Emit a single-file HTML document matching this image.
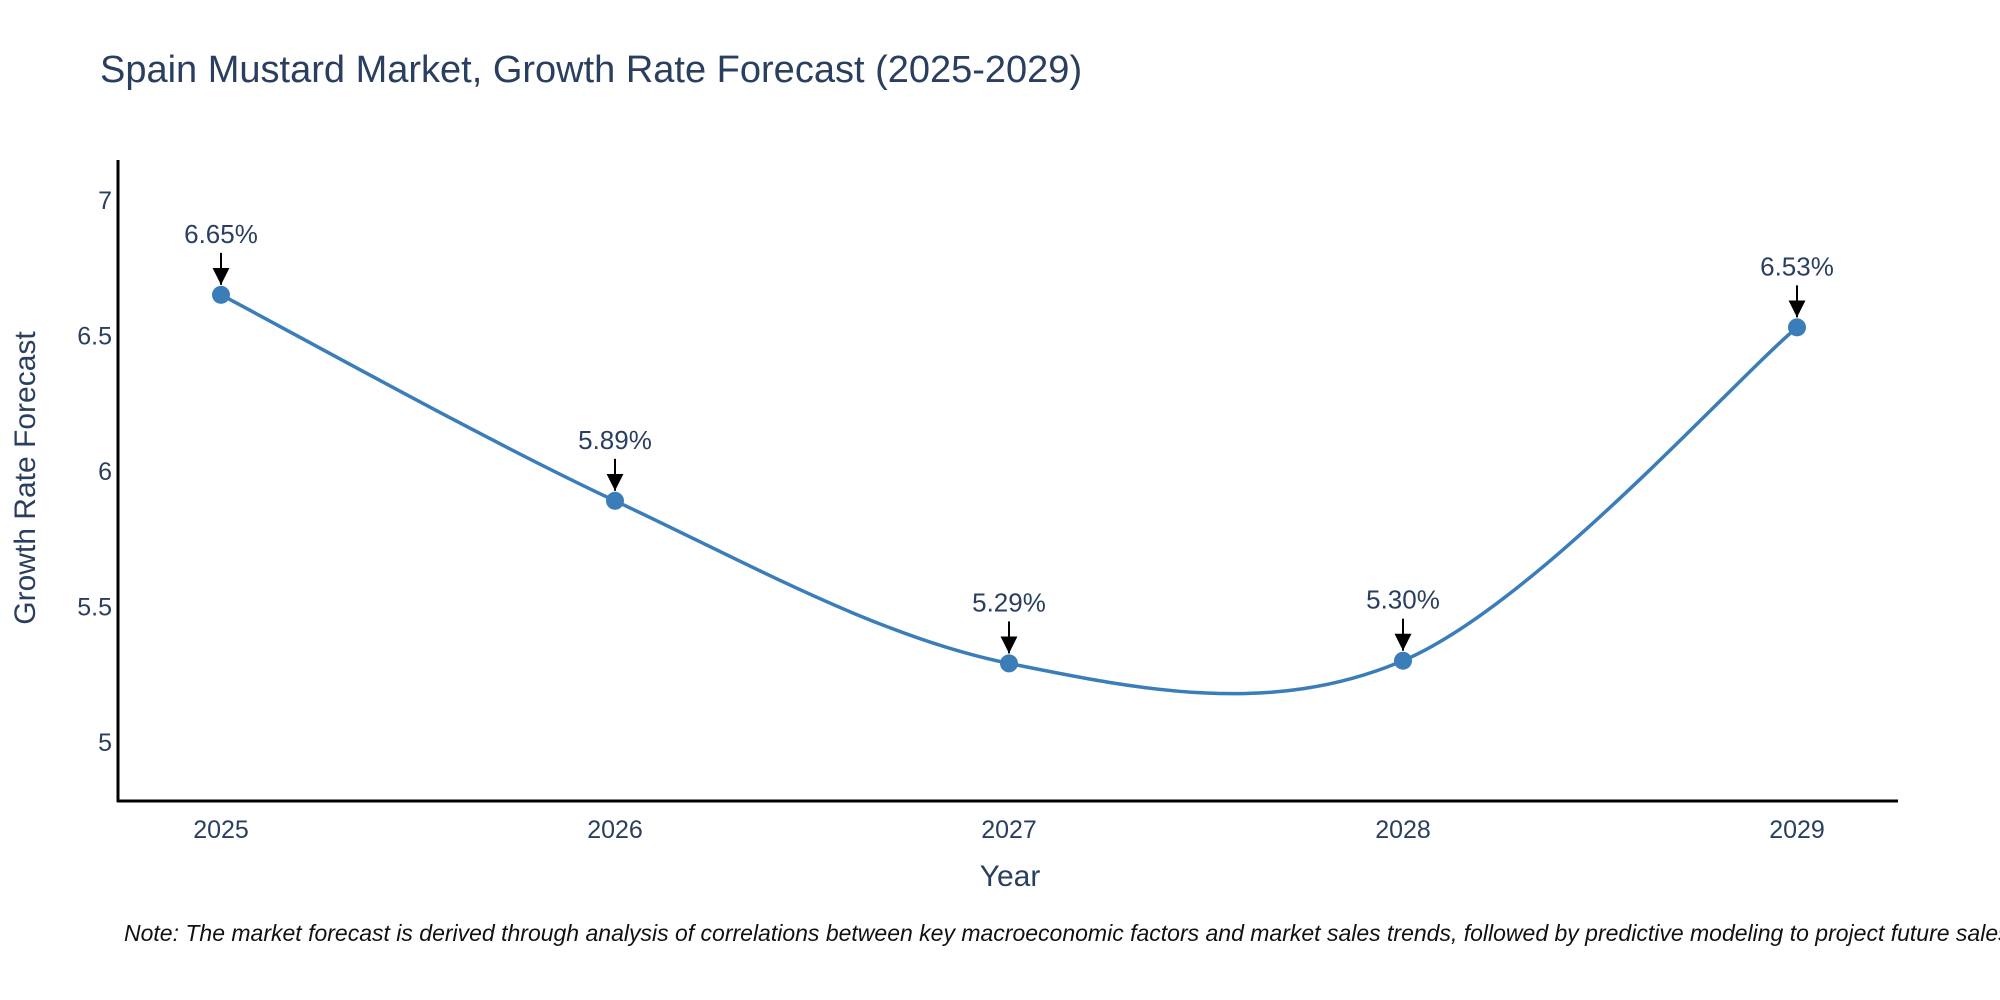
<!DOCTYPE html>
<html><head><meta charset="utf-8"><style>
body{margin:0;background:#fff;}
svg{display:block;font-family:"Liberation Sans",sans-serif;}
</style></head><body>
<svg id="chart" width="2000" height="1000" viewBox="0 0 2000 1000">
<defs>
<marker id="ah2" viewBox="0 0 10 10" refX="5" refY="10" markerWidth="17" markerHeight="17" markerUnits="userSpaceOnUse" orient="0"><path d="M0,0 L10,0 L5,10 z" fill="#000"/></marker></defs>
<text x="100" y="82" font-size="38" fill="#2a3f5f">Spain Mustard Market, Growth Rate Forecast (2025-2029)</text>
<g id="yticks"></g><g id="xticks"></g>
<path id="line" fill="none" stroke="#3a7db8" stroke-width="3.5"/>
<g id="marks"></g>
<line x1="118" y1="160" x2="118" y2="802" stroke="#000" stroke-width="3"/>
<line x1="117" y1="801" x2="1898" y2="801" stroke="#000" stroke-width="3"/>
<text x="1010" y="886" font-size="30" fill="#2a3f5f" text-anchor="middle">Year</text>
<text transform="translate(35,478) rotate(-90)" font-size="30" fill="#2a3f5f" text-anchor="middle">Growth Rate Forecast</text>
<text x="124" y="941" font-size="23" font-style="italic" fill="#111">Note: The market forecast is derived through analysis of correlations between key macroeconomic factors and market sales trends, followed by predictive modeling to project future sales.</text>
</svg>
<script>
const years=[2025,2026,2027,2028,2029];
const rates=[6.65,5.89,5.29,5.30,6.53];
const labels=["6.65%","5.89%","5.29%","5.30%","6.53%"];
const yTicks=[5,5.5,6,6.5,7];
const yTickLabels=["5","5.5","6","6.5","7"];
const NS="http://www.w3.org/2000/svg";
const X=v=>221+(v-2025)*394;
const Y=v=>742-(v-5)*271;
function mk(t,a,p){const e=document.createElementNS(NS,t);for(const k in a)e.setAttribute(k,a[k]);p.appendChild(e);return e;}
const yt=document.getElementById('yticks');
yTicks.forEach((v,i)=>{const t=mk('text',{x:112,y:Y(v)+9,'font-size':25,fill:'#2a3f5f','text-anchor':'end'},yt);t.textContent=yTickLabels[i];

});
const xt=document.getElementById('xticks');
years.forEach(v=>{const t=mk('text',{x:X(v),y:838,'font-size':25,fill:'#2a3f5f','text-anchor':'middle'},xt);t.textContent=v;

});
const pts=years.map((y,i)=>[X(y),Y(rates[i])]);
let d=`M${pts[0][0]},${pts[0][1]}`;
for(let i=0;i<pts.length-1;i++){const p0=pts[Math.max(0,i-1)],p1=pts[i],p2=pts[i+1],p3=pts[Math.min(pts.length-1,i+2)];
const s=1/6;d+=` C${p1[0]+(p2[0]-p0[0])*s},${p1[1]+(p2[1]-p0[1])*s} ${p2[0]-(p3[0]-p1[0])*s},${p2[1]-(p3[1]-p1[1])*s} ${p2[0]},${p2[1]}`;}
document.getElementById('line').setAttribute('d',d);
const g=document.getElementById('marks');
pts.forEach((p,i)=>{const c=mk('circle',{cx:p[0],cy:p[1],r:9,fill:'#3a7db8'},g);


const l=mk('line',{x1:p[0],y1:p[1]-42,x2:p[0],y2:p[1]-10,stroke:'#000','stroke-width':2,'marker-end':'url(#ah2)'},g);


const t=mk('text',{x:p[0],y:p[1]-52,'font-size':26,fill:'#2a3f5f','text-anchor':'middle'},g);t.textContent=labels[i];

});
</script>
</body></html>
